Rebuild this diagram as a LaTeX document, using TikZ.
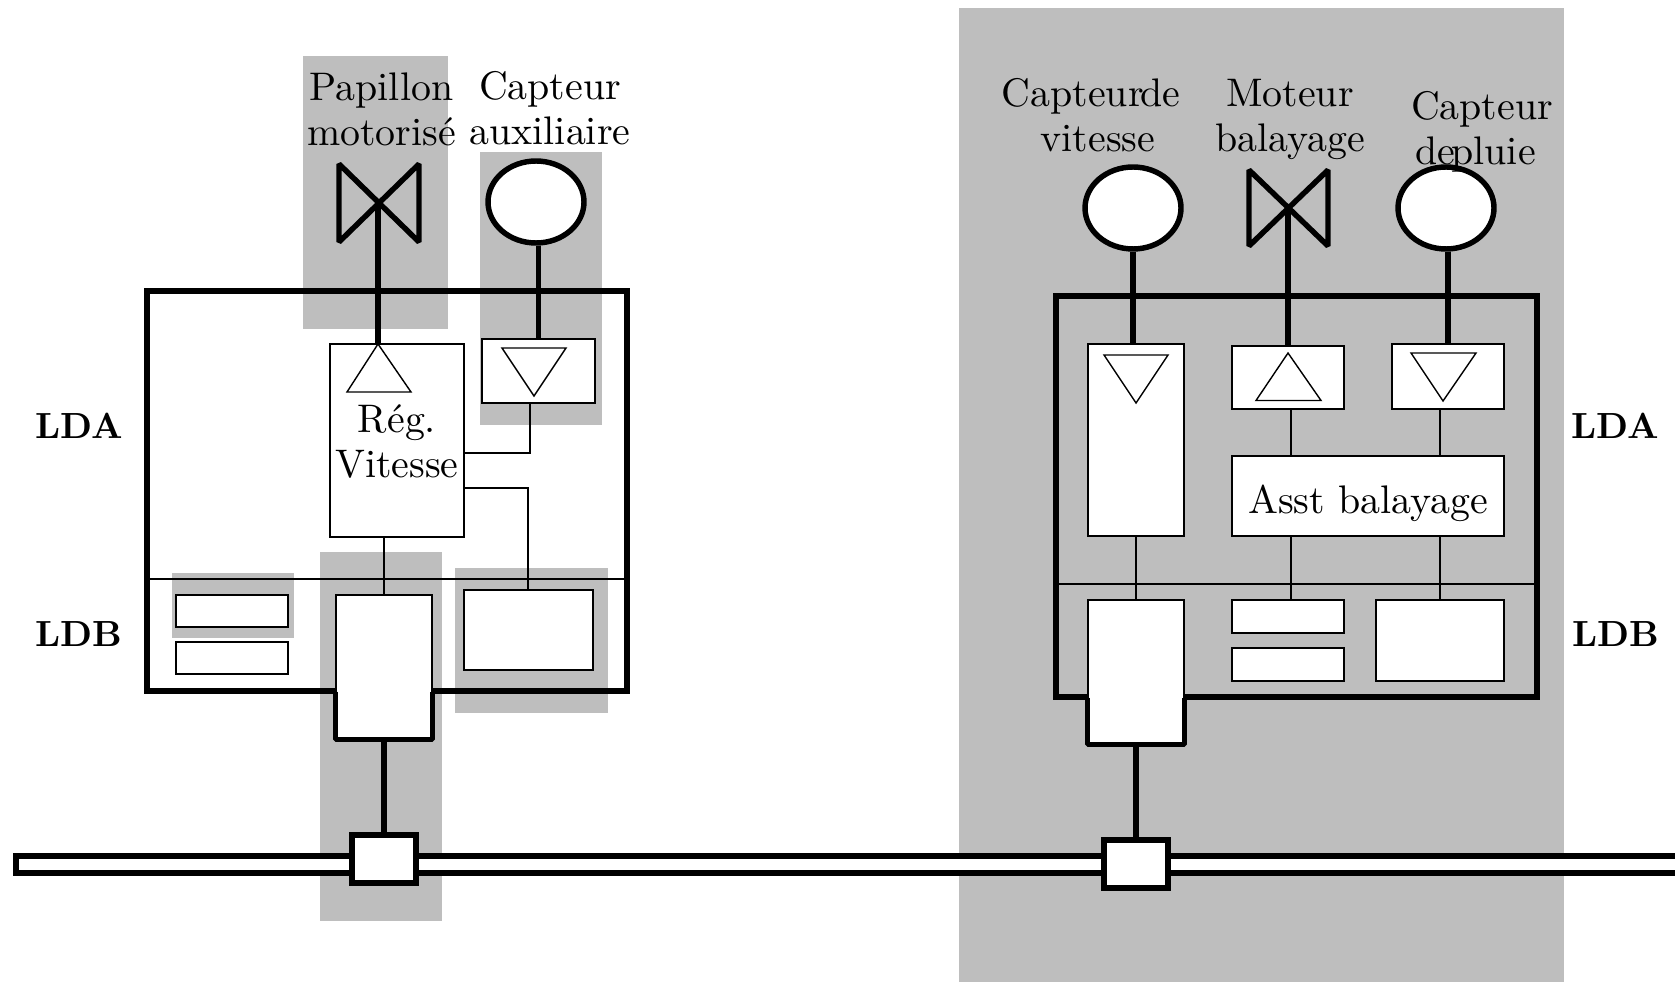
\documentclass[tikz,border=0pt]{standalone}
\usepackage{tikz}
\usetikzlibrary{positioning,shapes.geometric}

\definecolor{zonegray}{HTML}{BEBEBE}

\tikzset{
    heavy/.style={line width=3.1pt},
    fine/.style={line width=0.8pt},
    block/.style={draw,fill=white,fine,inner sep=0},
    capteur/.style={draw,ellipse,fill=white,heavy,inner sep=0,minimum width=1.92cm,minimum height=1.64cm},
    txt/.style={scale=2.27,inner sep=0,align=center,anchor=base,font=\fontsize{10}{11.3}\selectfont},
    ldtxt/.style={scale=2.07,inner sep=0,anchor=center,font=\bfseries}
}

\begin{document}
\begin{tikzpicture}[x=0.02cm,y=-0.02cm]

        \useasboundingbox (0,0) rectangle (1675,982);

        % Grey zones

        \fill[zonegray] (303,56) rectangle (448,329);
        \fill[zonegray] (480,152) rectangle (602,425);
        \fill[zonegray] (172,573) rectangle (294,638);
        \fill[zonegray] (320,552) rectangle (442,921);
        \fill[zonegray] (455,568) rectangle (608,713);
        \fill[zonegray] (959,8) rectangle (1564,982);

        % Bus

        \coordinate (busa) at (1675,856);
        \coordinate (busb) at (1675,873);
        \draw[heavy,fill=white] (busa) -- (16,856) -- (16,873) -- (busb);

        % Left unit

        \node [draw,heavy,
        minimum width=9.6cm,
        minimum height=8cm
            ] (ecug) at (387,491) {};

        \coordinate (sepg) at (147,579);
        \draw[fine] (sepg) -- (sepg -| ecug.east);

        \coordinate (papillon) at (378,203);
        \node [capteur] (capaux) at (536,202) {};

        \node [block,
        minimum width=2.68cm,
        minimum height=3.86cm
            ] (reg) at (397,440.5) {};
        \node [block,
        minimum width=2.26cm,
        minimum height=1.28cm
            ] (aux) at (538.5,371) {};
        \node [block,
        minimum width=2.24cm,
        minimum height=0.64cm
            ] (ldbun) at (232,611) {};
        \node [block,
        minimum width=2.24cm,
        minimum height=0.64cm,
        below=0.27cm of ldbun
            ] (ldbdeux) {};
        \node [block,
        minimum width=2.58cm,
        minimum height=1.6cm
            ] (ldbg) at (528.5,630) {};
        \node [block,
        minimum width=1.92cm,
        minimum height=2.88cm
            ] (ifg) at (384,667) {};
        \node [draw,fill=white,heavy,
        inner sep=0,
        minimum width=1.28cm,
        minimum height=0.96cm
            ] (nodeg) at (384,859) {};

        \draw[heavy,line join=bevel] (ifg.south west) ++(0,-48) -- (ifg.south west)
            -- (ifg.south east) -- ++(0,-48);

        \draw[heavy,line join=bevel] (339,164) -- (339,242) -- (419,164) -- (419,242) -- cycle;
        \draw[heavy] (papillon) -- (papillon |- reg.north);
        \draw[heavy] (aux.north) -- (aux.north |- capaux.south);
        \draw[heavy] (ifg.south) -- (nodeg.north);

        \draw[fine] (347,392) -- (378,344) -- (411,392) -- cycle;
        \draw[fine] (502,348) -- (566,348) -- (534,396) -- cycle;

        \coordinate (fila) at (530,453);
        \coordinate (filb) at (528,488);
        \draw[fine] (fila |- aux.south) -- (fila) -- (fila -| reg.east);
        \draw[fine] (filb -| reg.east) -- (filb) -- (filb |- ldbg.north);
        \draw[fine] (ifg.north) -- (ifg.north |- reg.south);

        % Right unit

        \node [draw,heavy,
        minimum width=9.62cm,
        minimum height=8.02cm
            ] (ecud) at (1296.5,496.5) {};

        \coordinate (sepd) at (1056,584);
        \draw[fine] (sepd) -- (sepd -| ecud.east);

        \node [capteur] (capv) at (1133,208) {};
        \coordinate (moteur) at (1288,208);
        \node [capteur] (capp) at (1446,208) {};

        \node [block,
        minimum width=1.92cm,
        minimum height=3.84cm
            ] (vit) at (1136,440) {};
        \node [block,
        minimum width=2.24cm,
        minimum height=1.26cm
            ] (mot) at (1288,377.5) {};
        \node [block,
        minimum width=2.24cm,
        minimum height=1.3cm
            ] (plu) at (1448,376.5) {};
        \node [block,
        minimum width=5.44cm,
        minimum height=1.6cm
            ] (asst) at (1368,496) {};
        \node [block,
        minimum width=2.24cm,
        minimum height=0.66cm
            ] (ldbtrois) at (1288,616.5) {};
        \node [block,
        minimum width=2.24cm,
        minimum height=0.66cm,
        below=0.27cm of ldbtrois
            ] (ldbquatre) {};
        \node [block,
        minimum width=2.56cm,
        minimum height=1.62cm
            ] (ldbd) at (1440,640.5) {};
        \node [block,
        minimum width=1.92cm,
        minimum height=2.88cm
            ] (ifd) at (1136,672) {};
        \node [draw,fill=white,heavy,
        inner sep=0,
        minimum width=1.28cm,
        minimum height=0.96cm
            ] (noded) at (1136,864) {};

        \draw[heavy,line join=bevel] (ifd.south west) ++(0,-47) -- (ifd.south west)
            -- (ifd.south east) -- ++(0,-47);

        \draw[heavy,line join=bevel] (1249,170) -- (1249,246) -- (1328,170) -- (1328,246) -- cycle;
        \draw[heavy] (capv.south) -- (capv.south |- vit.north);
        \draw[heavy] (moteur) -- (moteur |- mot.north);
        \draw[heavy] (plu.north) -- (plu.north |- capp.south);
        \draw[heavy] (ifd.south) -- (noded.north);

        \draw[fine] (1104,355) -- (1168,355) -- (1136,403) -- cycle;
        \draw[fine] (1256,400.5) -- (1288,353) -- (1321,400.5) -- cycle;
        \draw[fine] (1411,353) -- (1476,353) -- (1443,401) -- cycle;

        \coordinate (filc) at (1291,0);
        \draw[fine] (filc |- mot.south) -- (filc |- asst.north);
        \draw[fine] (filc |- asst.south) -- (filc |- ldbtrois.north);
        \draw[fine] (ldbd.north |- plu.south) -- (ldbd.north |- asst.north);
        \draw[fine] (ldbd.north |- asst.south) -- (ldbd.north);
        \draw[fine] (vit.south) -- (ifd.north);

        % Texts

        \node [txt] (tpap) at (381.5,145.5) {Papillon\\motoris\'e};
        \node [txt] (tcaux) at (550,144.5) {Capteur\\auxiliaire};
        \node [txt] (treg) at (397,477.5) {R\'eg.\\Vitesse};
        \node [txt] (tcv) at (1091,152) {Capteur\kern-0.8pt de\\\kern3.5pt vitesse};
        \node [txt] (tmot) at (1290,152) {Moteur\\balayage};
        \node [txt] (tcp) at (1482,165) {Capteur\\de\kern-1pt pluie\kern3.2pt};
        \node [txt] (tasst) at (1368,513) {Asst balayage};

        \node [ldtxt] (ldag) at (79,426) {LDA};
        \node [ldtxt] (ldbtg) at (79,634) {LDB};
        \node [ldtxt] (ldad) at (1615.5,426) {LDA};
        \node [ldtxt] (ldbtd) at (1615.5,634) {LDB};

\end{tikzpicture}
\end{document}
